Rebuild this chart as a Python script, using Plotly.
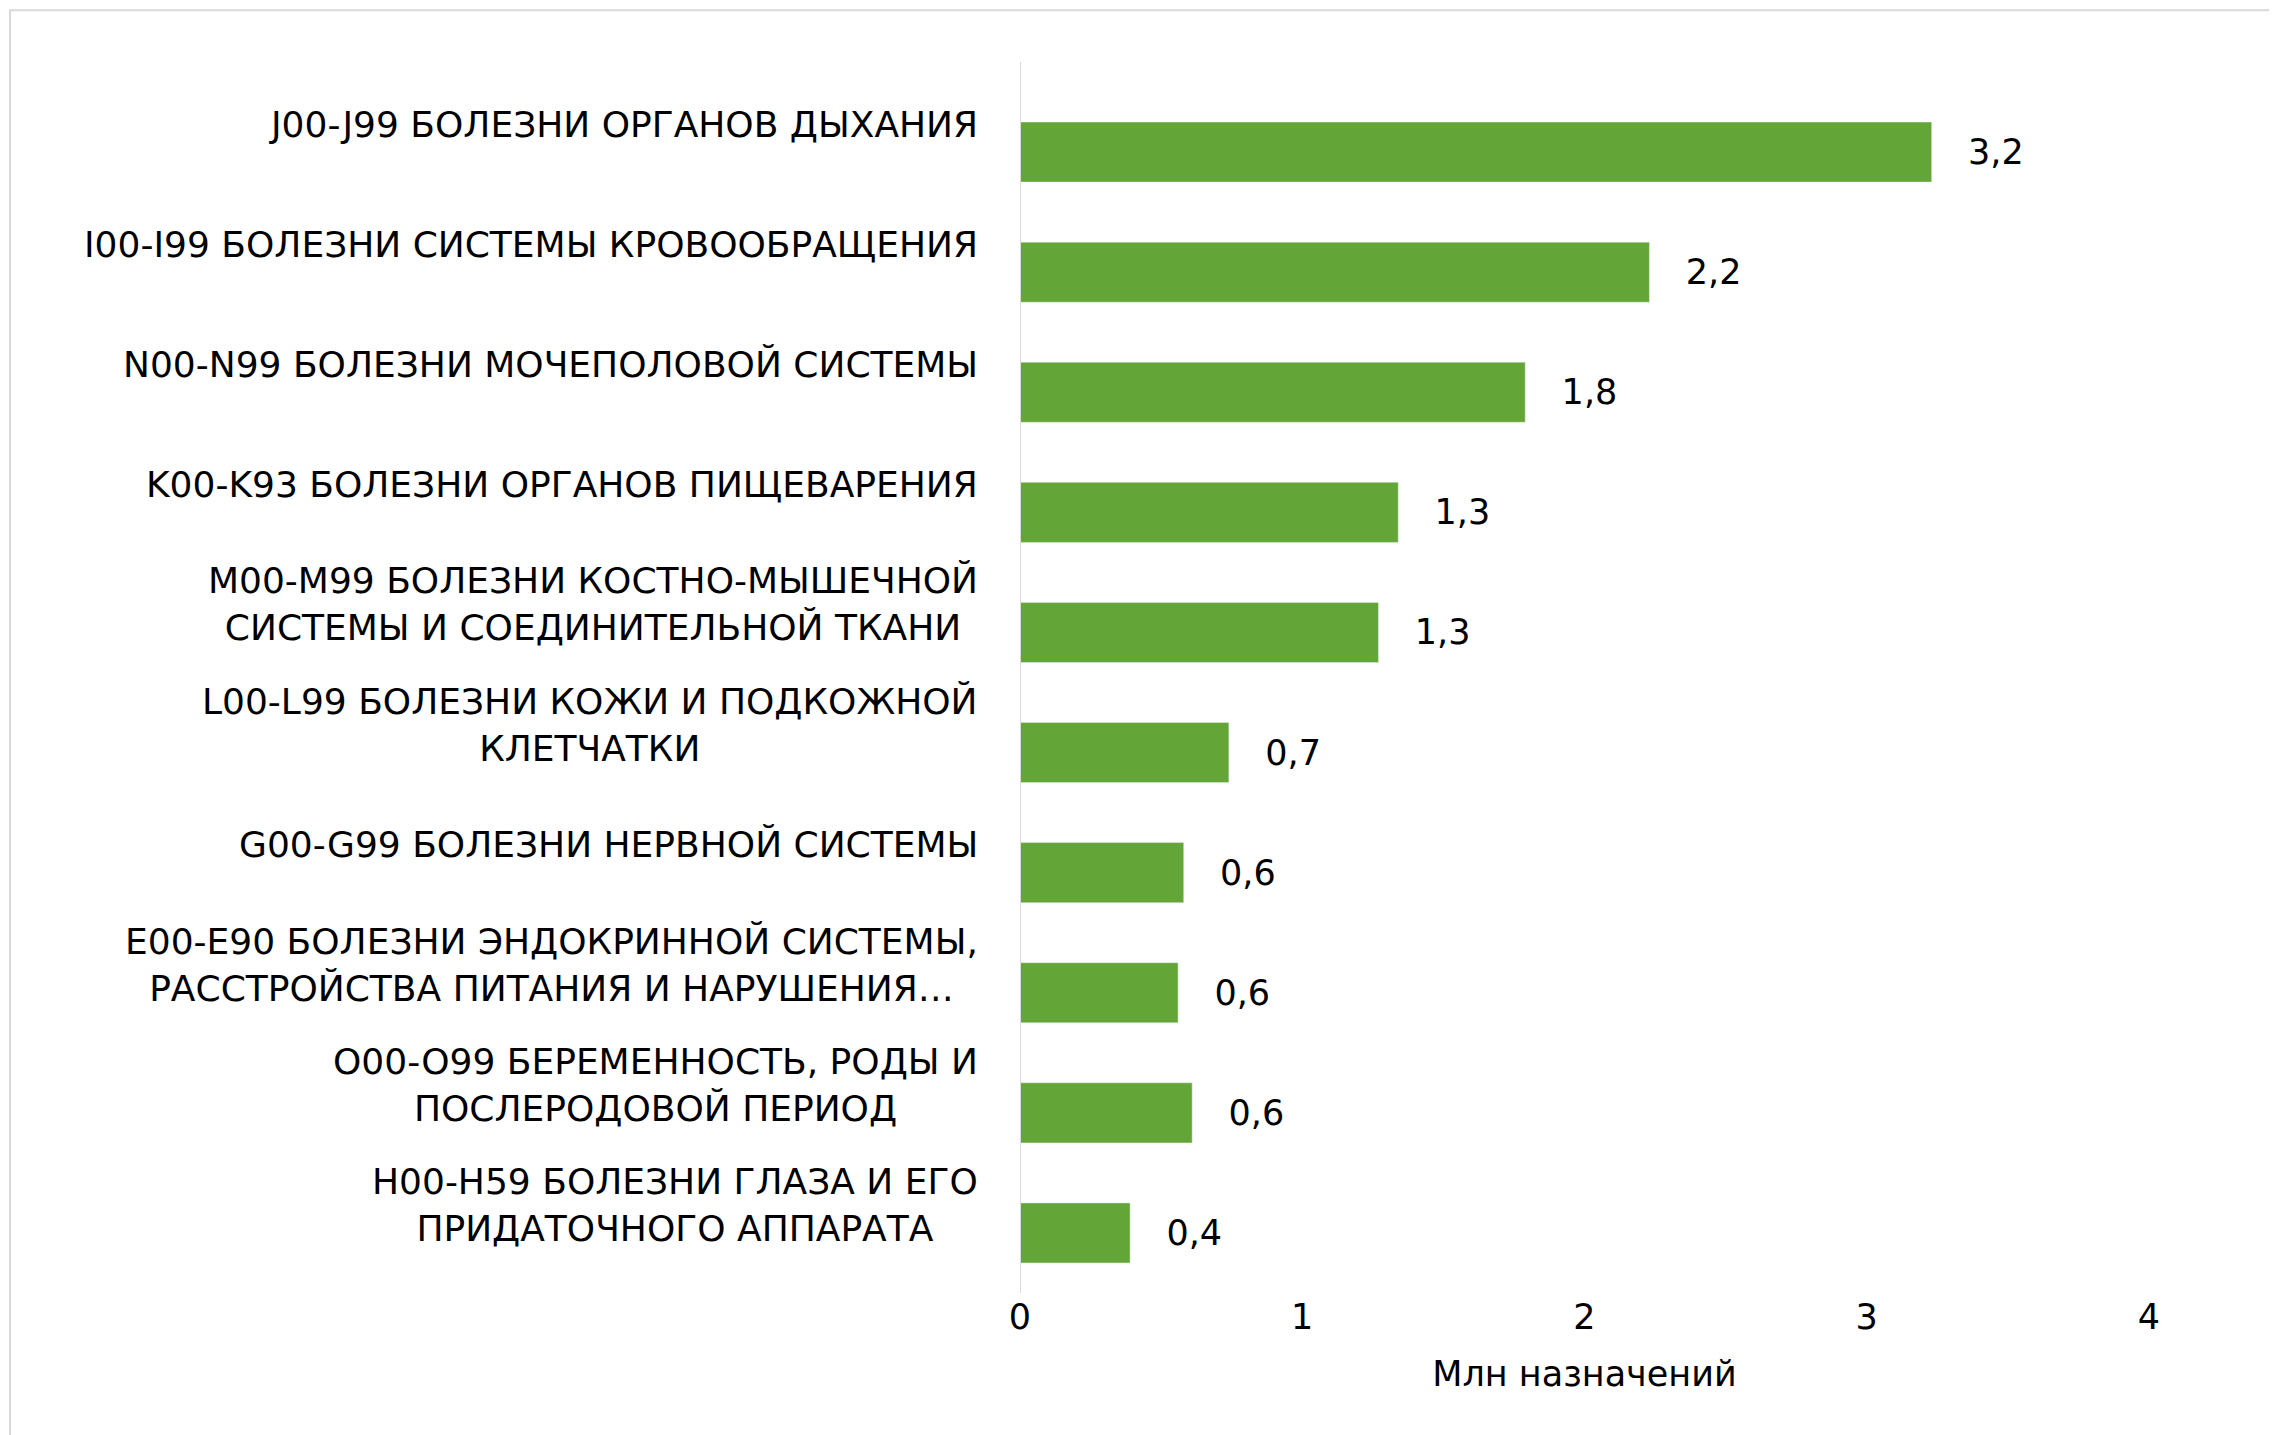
import plotly.graph_objects as go

categories = [
    "J00-J99 БОЛЕЗНИ ОРГАНОВ ДЫХАНИЯ",
    "I00-I99 БОЛЕЗНИ СИСТЕМЫ КРОВООБРАЩЕНИЯ",
    "N00-N99 БОЛЕЗНИ МОЧЕПОЛОВОЙ СИСТЕМЫ",
    "K00-K93 БОЛЕЗНИ ОРГАНОВ ПИЩЕВАРЕНИЯ",
    "M00-M99 БОЛЕЗНИ КОСТНО-МЫШЕЧНОЙ<br>СИСТЕМЫ И СОЕДИНИТЕЛЬНОЙ ТКАНИ",
    "L00-L99 БОЛЕЗНИ КОЖИ И ПОДКОЖНОЙ<br>КЛЕТЧАТКИ",
    "G00-G99 БОЛЕЗНИ НЕРВНОЙ СИСТЕМЫ",
    "E00-E90 БОЛЕЗНИ ЭНДОКРИННОЙ СИСТЕМЫ,<br>РАССТРОЙСТВА ПИТАНИЯ И НАРУШЕНИЯ…",
    "O00-O99 БЕРЕМЕННОСТЬ, РОДЫ И<br>ПОСЛЕРОДОВОЙ ПЕРИОД",
    "H00-H59 БОЛЕЗНИ ГЛАЗА И ЕГО<br>ПРИДАТОЧНОГО АППАРАТА",
]
values = [3.23, 2.23, 1.79, 1.34, 1.27, 0.74, 0.58, 0.56, 0.61, 0.39]
labels = ["3,2", "2,2", "1,8", "1,3", "1,3", "0,7", "0,6", "0,6", "0,6", "0,4"]
xticks = [0, 1, 2, 3, 4]

FONT = "DejaVu Sans"
fig = go.Figure(go.Bar(
    x=values, y=list(range(len(values))), orientation="h",
    marker_color="#63A536", text=["   " + t for t in labels], textposition="outside",
    textfont=dict(size=35, color="black", family=FONT), cliponaxis=False,
))

for i, c in enumerate(categories):
    fig.add_annotation(x=0, xref="paper", y=i, yref="y", text=c, showarrow=False,
                       xanchor="right", align="center", xshift=-40, yshift=28,
                       font=dict(size=36, color="black", family=FONT))

fig.update_layout(
    width=2277, height=1435, plot_bgcolor="white", paper_bgcolor="white",
    margin=dict(l=1012, r=136, t=84, b=150), showlegend=False, bargap=0.5,
    xaxis=dict(range=[0, 4], tickvals=xticks, showgrid=False, zeroline=False,
               tickfont=dict(size=35, family=FONT, color="black"),
               title=dict(text="Млн назначений", standoff=25,
                          font=dict(size=35, family=FONT, color="black"))),
    yaxis=dict(range=[9.5, -0.5], showticklabels=False, showgrid=False, zeroline=False),
    shapes=[
        dict(type="line", xref="x", yref="paper", x0=0, x1=0, y0=0, y1=1.025,
             line=dict(color="#D9D9D9", width=2)),
        dict(type="rect", xref="paper", yref="paper", x0=-0.8946, x1=1.1187, y0=-0.121, y1=1.068,
             line=dict(color="#D9D9D9", width=2)),
    ],
)
fig.write_html("out.html")
